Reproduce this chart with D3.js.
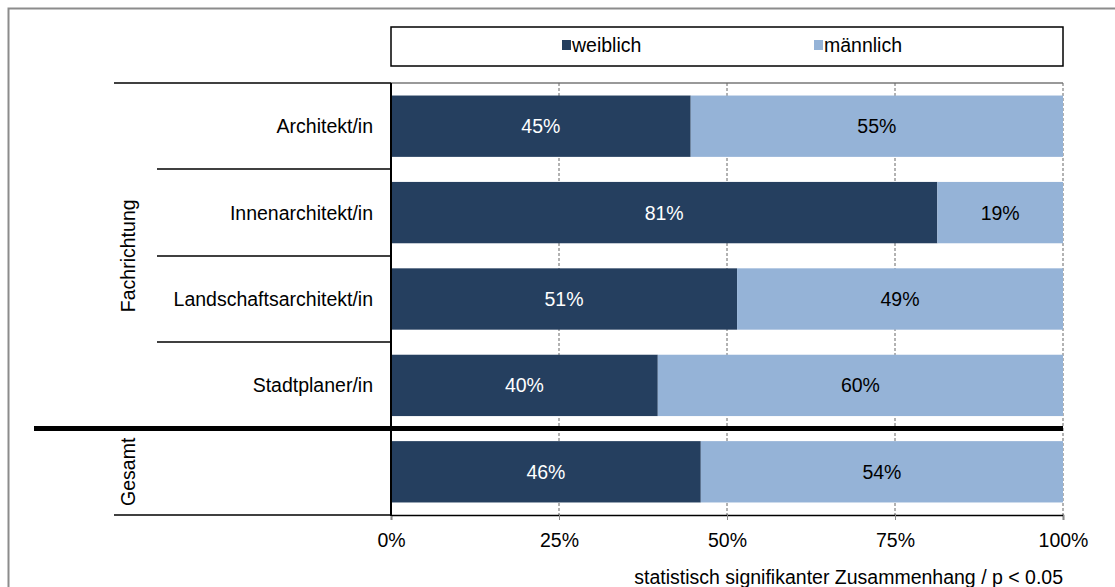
<!DOCTYPE html>
<html><head><meta charset="utf-8">
<script src="https://cdn.jsdelivr.net/npm/d3@7"></script>
<style>body{margin:0;background:#fff}svg{display:block;font-family:"Liberation Sans",Arial,sans-serif}</style>
</head><body><svg id="c" width="1115" height="587"></svg>
<script>
const categories = ["Architekt/in","Innenarchitekt/in","Landschaftsarchitekt/in","Stadtplaner/in","Gesamt"];
const groups = [{name:"Fachrichtung", members:["Architekt/in","Innenarchitekt/in","Landschaftsarchitekt/in","Stadtplaner/in"]},{name:"Gesamt", members:["Gesamt"]}];
const weiblich = [44.6, 81.3, 51.5, 39.7, 46.1];
const maennlich = [55.4, 18.7, 48.5, 60.3, 53.9];
const weiblichLabels = ["45%","81%","51%","40%","46%"];
const maennlichLabels = ["55%","19%","49%","60%","54%"];
const seriesNames = ["weiblich","männlich"];
const tickValues = [0,25,50,75,100];
const colors = ["#253f5f","#95b3d7"];

const FS = 19.5;
const svg = d3.select("#c");
const L = 391, R = 1063, T = 83, B = 515;
const x = d3.scaleLinear().domain([0,100]).range([L,R]);
const y = d3.scaleBand().domain(categories).range([T,B]).paddingInner(0.29).paddingOuter(0.145);
const step = y.step();

// outer frame
svg.append("rect").attr("x",8.5).attr("y",8.5).attr("width",1200).attr("height",700)
  .attr("fill","none").attr("stroke","#8c8c8c").attr("stroke-width",2);

// legend
svg.append("rect").attr("x",391).attr("y",27).attr("width",672).attr("height",39)
  .attr("fill","#fff").attr("stroke","#000").attr("stroke-width",1.5);
const legX = [562, 814];
seriesNames.forEach((n,i)=>{
  svg.append("rect").attr("x",legX[i]).attr("y",40).attr("width",9).attr("height",10).attr("fill",colors[i]);
  svg.append("text").attr("x",legX[i]+10).attr("y",52).attr("font-size",FS).attr("fill","#000").text(n);
});

// plot top border
svg.append("line").attr("x1",L).attr("x2",R).attr("y1",T).attr("y2",T).attr("stroke","#777").attr("stroke-width",1.5);

// gridlines
svg.append("g").selectAll("line").data(tickValues.slice(1)).join("line")
  .attr("x1",d=>x(d)).attr("x2",d=>x(d)).attr("y1",T).attr("y2",B)
  .attr("stroke","#666").attr("stroke-width",1).attr("stroke-dasharray","3,2");

// bars
const data = categories.map((c,i)=>({c, w:weiblich[i], m:maennlich[i], wl:weiblichLabels[i], ml:maennlichLabels[i]}));
const bars = svg.append("g");
bars.selectAll("rect.w").data(data).join("rect").attr("class","w")
  .attr("x",x(0)).attr("y",d=>y(d.c)).attr("width",d=>x(d.w)-x(0)).attr("height",y.bandwidth()).attr("fill",colors[0]);
bars.selectAll("rect.m").data(data).join("rect").attr("class","m")
  .attr("x",d=>x(d.w)).attr("y",d=>y(d.c)).attr("width",d=>x(100)-x(d.w)).attr("height",y.bandwidth()).attr("fill",colors[1]);
bars.selectAll("text.w").data(data).join("text").attr("class","w")
  .attr("x",d=>x(d.w/2)).attr("y",d=>y(d.c)+y.bandwidth()/2+7).attr("text-anchor","middle")
  .attr("font-size",FS).attr("fill","#fff").text(d=>d.wl);
bars.selectAll("text.m").data(data).join("text").attr("class","m")
  .attr("x",d=>x(d.w+d.m/2)).attr("y",d=>y(d.c)+y.bandwidth()/2+7).attr("text-anchor","middle")
  .attr("font-size",FS).attr("fill","#000").text(d=>d.ml);

// x axis
const xAxis = d3.axisBottom(x).tickValues(tickValues).tickFormat(d=>d+"%").tickSize(5).tickPadding(13);
const gx = svg.append("g").attr("transform",`translate(0,${B})`).call(xAxis);
gx.select(".domain").attr("stroke","#000").attr("stroke-width",1.5);
gx.selectAll(".tick line").attr("stroke","#888");
gx.selectAll("text").attr("font-size",FS).attr("fill","#000").attr("font-family","Liberation Sans, Arial, sans-serif");

// vertical axis line
svg.append("line").attr("x1",L).attr("x2",L).attr("y1",T).attr("y2",B+1).attr("stroke","#000").attr("stroke-width",2);

// category labels
svg.append("g").selectAll("text").data(categories.filter(c=>c!=="Gesamt")).join("text")
  .attr("x",373).attr("y",d=>y(d)+y.bandwidth()/2+7).attr("text-anchor","end")
  .attr("font-size",FS).attr("fill","#000").text(d=>d);

// separators between categories
const bandTop = c => y(c) - y.paddingInner()*step/2;
svg.append("line").attr("x1",114).attr("x2",L).attr("y1",T).attr("y2",T).attr("stroke","#000").attr("stroke-width",1.5);
["Innenarchitekt/in","Landschaftsarchitekt/in","Stadtplaner/in"].forEach(c=>{
  const yy = Math.round(bandTop(c));
  svg.append("line").attr("x1",157).attr("x2",L).attr("y1",yy).attr("y2",yy).attr("stroke","#000").attr("stroke-width",1.5);
});
const thickY = bandTop("Gesamt");
svg.append("line").attr("x1",34).attr("x2",R).attr("y1",thickY).attr("y2",thickY).attr("stroke","#000").attr("stroke-width",5);
svg.append("line").attr("x1",114).attr("x2",L).attr("y1",B).attr("y2",B).attr("stroke","#000").attr("stroke-width",1.5);

// group labels
groups.forEach(g=>{
  const y0 = y(g.members[0]) , y1 = y(g.members[g.members.length-1]) + y.bandwidth();
  const cy = (y0+y1)/2;
  svg.append("text").attr("transform",`translate(135,${cy}) rotate(-90)`).attr("text-anchor","middle")
    .attr("font-size",FS).attr("fill","#000").text(g.name);
});

// footnote
svg.append("text").attr("x",R).attr("y",584).attr("text-anchor","end").attr("font-size",FS).attr("fill","#000")
  .text("statistisch signifikanter Zusammenhang / p < 0.05");
</script></body></html>
